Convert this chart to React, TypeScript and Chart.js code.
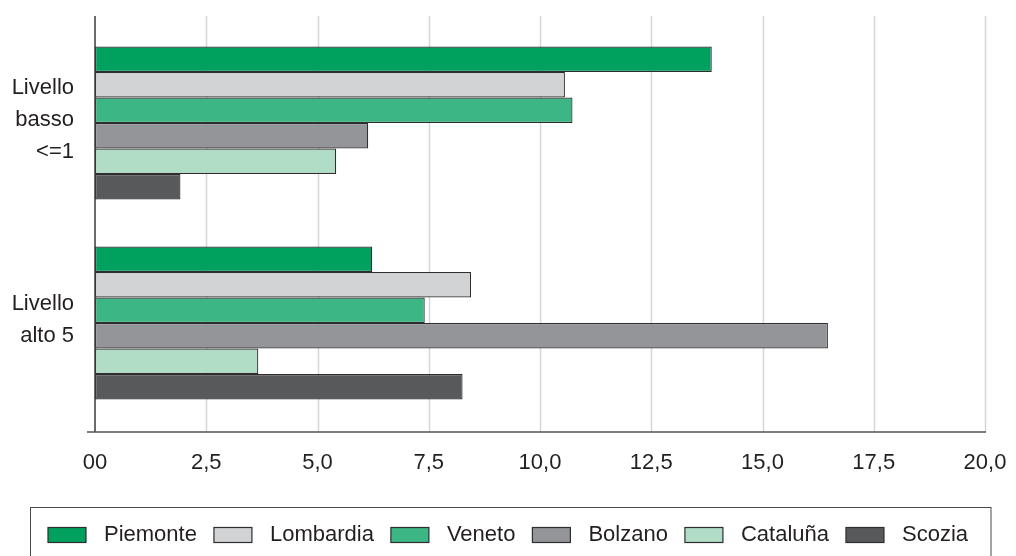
import React, { useEffect, useRef } from "react";
import { Chart, registerables } from "chart.js";

Chart.register(...registerables);

const categories: string[][] = [
  ["Livello", "basso", "<=1"],
  ["Livello", "alto 5"],
];

const seriesNames = ["Piemonte", "Lombardia", "Veneto", "Bolzano", "Cataluña", "Scozia"];
const piemonte = [13.86, 6.23];
const lombardia = [10.56, 8.45];
const veneto = [10.73, 7.41];
const bolzano = [6.14, 16.47];
const cataluna = [5.42, 3.67];
const scozia = [1.92, 8.26];
const seriesValues = [piemonte, lombardia, veneto, bolzano, cataluna, scozia];
const seriesColors = ["#00a05f", "#d1d3d4", "#3db686", "#939598", "#b1dcc6", "#58595b"];

const xTickLabels = ["00", "2,5", "5,0", "7,5", "10,0", "12,5", "15,0", "17,5", "20,0"];

const FONT = "'Liberation Sans', Arial, Helvetica, sans-serif";
const SWATCH_W = 38;
const SWATCH_H = 15;
const LEGEND_FONT = 22;

const framePlugin = {
  id: "frame",
  beforeDatasetsDraw(chart: any) {
    const { ctx } = chart;
    const x = chart.scales.x;
    const top = 16;
    const bottom = 432;
    ctx.save();
    ctx.strokeStyle = "#d6d6d6";
    ctx.lineWidth = 1.5;
    x.ticks.forEach((t: any) => {
      if (t.value === 0) return;
      const px = Math.round(x.getPixelForValue(t.value)) + 0.5;
      ctx.beginPath();
      ctx.moveTo(px, top);
      ctx.lineTo(px, bottom);
      ctx.stroke();
    });
    ctx.restore();
  },
  afterDatasetsDraw(chart: any) {
    const { ctx } = chart;
    const x = chart.scales.x;
    const x0 = x.getPixelForValue(0);
    const x1 = x.getPixelForValue(20);
    ctx.save();
    ctx.strokeStyle = "#3a3a3a";
    ctx.lineWidth = 1.5;
    ctx.beginPath();
    ctx.moveTo(x0, 16);
    ctx.lineTo(x0, 432);
    ctx.stroke();
    ctx.strokeStyle = "#555";
    ctx.beginPath();
    ctx.moveTo(87, 432);
    ctx.lineTo(x1 + 1, 432);
    ctx.stroke();
    ctx.restore();
  },
  afterDraw(chart: any) {
    const { ctx } = chart;
    ctx.save();
    // legend swatches, drawn at the legend's own hit boxes
    const legend = chart.legend;
    if (legend && legend.legendHitBoxes) {
      legend.legendHitBoxes.forEach((hb: any, i: number) => {
        const ds = chart.data.datasets[i];
        const y = hb.top + Math.max((LEGEND_FONT - SWATCH_H) / 2, 0);
        ctx.fillStyle = ds.backgroundColor;
        ctx.fillRect(hb.left, y, SWATCH_W, SWATCH_H);
        ctx.strokeStyle = "#2e2e2e";
        ctx.lineWidth = 1.2;
        ctx.strokeRect(hb.left, y, SWATCH_W, SWATCH_H);
      });
    }
    ctx.strokeStyle = "#4a4a4a";
    ctx.lineWidth = 1;
    ctx.strokeRect(30.5, 507.5, 960.5, 80);
    ctx.restore();
  },
};

export default function App() {
  const ref = useRef<HTMLCanvasElement | null>(null);

  useEffect(() => {
    if (!ref.current) return;
    Chart.defaults.font.family = FONT;
    Chart.defaults.color = "#231f20";
    const chart = new Chart(ref.current, {
      type: "bar",
      data: {
        labels: categories,
        datasets: seriesNames.map((name, i) => ({
          label: name,
          data: seriesValues[i],
          backgroundColor: seriesColors[i],
          borderColor: "#2e2e2e",
          borderWidth: 1.2,
          borderSkipped: false,
          categoryPercentage: 0.765,
          barPercentage: 1,
        })),
      },
      options: {
        indexAxis: "y",
        responsive: false,
        animation: false,
        layout: { padding: { top: 23, right: 0, bottom: 0, left: 0 } },
        scales: {
          x: {
            min: 0,
            max: 20,
            grid: { display: false, drawTicks: false },
            border: { display: false },
            ticks: {
              stepSize: 2.5,
              padding: 27,
              font: { size: 22 },
              color: "#231f20",
              callback: (_v: any, i: number) => xTickLabels[i],
            },
            afterFit: (s: any) => {
              s.height = 84;
              s.paddingLeft = 0;
              s.paddingRight = 31;
            },
          },
          y: {
            grid: { display: false, drawTicks: false },
            border: { display: false },
            ticks: {
              padding: 21,
              labelOffset: -3,
              font: { size: 22, lineHeight: 32 / 22 },
              color: "#231f20",
            },
            afterFit: (s: any) => {
              s.width = 95;
              s.paddingTop = 0;
              s.paddingBottom = 0;
            },
          },
        },
        plugins: {
          legend: {
            position: "bottom",
            labels: {
              boxWidth: SWATCH_W + 7,
              boxHeight: SWATCH_H,
              padding: 17,
              font: { size: LEGEND_FONT },
              color: "#231f20",
              generateLabels: (c: any) =>
                c.data.datasets.map((ds: any, i: number) => ({
                  text: ds.label,
                  fillStyle: "rgba(0,0,0,0)",
                  strokeStyle: "rgba(0,0,0,0)",
                  lineWidth: 0,
                  hidden: !c.isDatasetVisible(i),
                  datasetIndex: i,
                  fontColor: "#231f20",
                })),
            },
          },
          tooltip: { enabled: false },
        },
      },
      plugins: [framePlugin],
    });
    return () => chart.destroy();
  }, []);

  return (
    <div style={{ position: "absolute", left: 0, top: 0, width: 1016, height: 556, background: "#fff" }}>
      <canvas ref={ref} width={1016} height={556} />
    </div>
  );
}
